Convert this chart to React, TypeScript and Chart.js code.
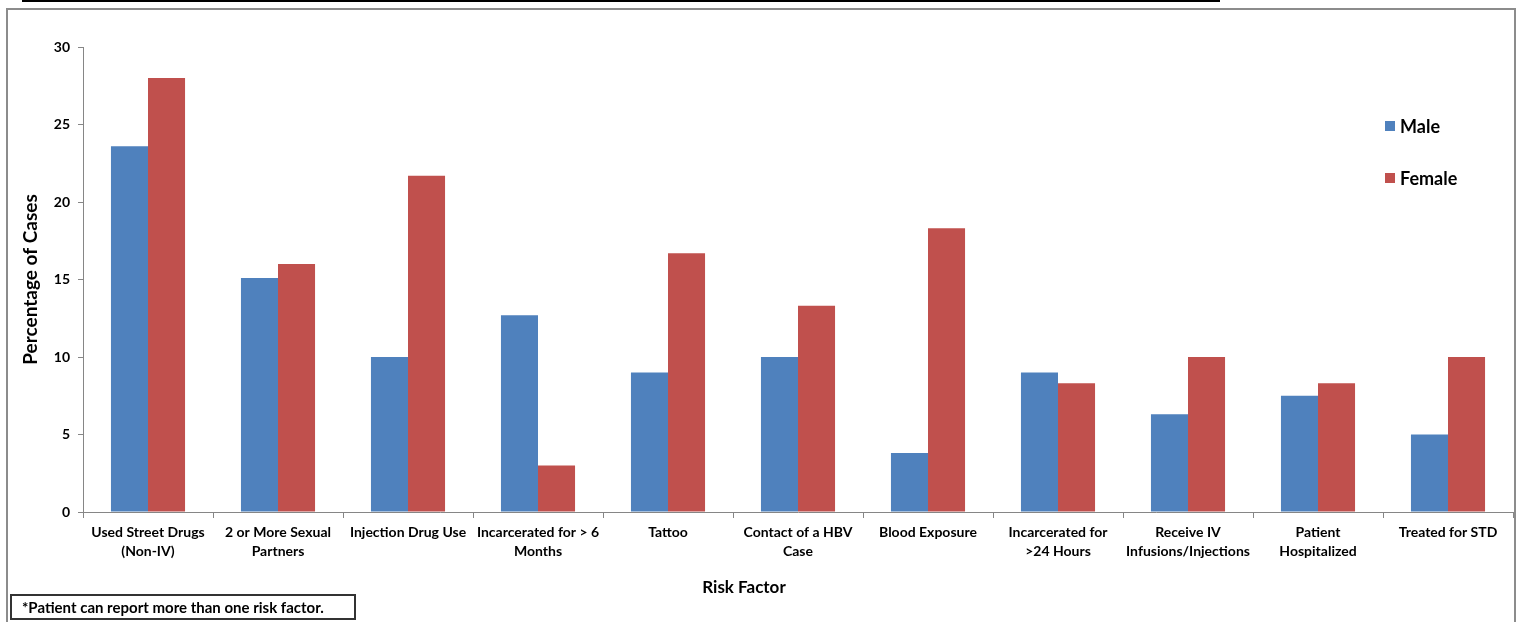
import React, { useEffect, useRef } from "react";
import { Chart, registerables } from "chart.js";

Chart.register(...registerables);

const categories: (string | string[])[] = [
  ["Used Street Drugs", "(Non-IV)"],
  ["2 or More Sexual", "Partners"],
  "Injection Drug Use",
  ["Incarcerated for > 6", "Months"],
  "Tattoo",
  ["Contact of a HBV", "Case"],
  "Blood Exposure",
  ["Incarcerated for", ">24 Hours"],
  ["Receive IV", "Infusions/Injections"],
  ["Patient", "Hospitalized"],
  "Treated for STD",
];

const maleValues = [23.6, 15.1, 10.0, 12.7, 9.0, 10.0, 3.8, 9.0, 6.3, 7.5, 5.0];
const femaleValues = [28.0, 16.0, 21.7, 3.0, 16.7, 13.3, 18.3, 8.3, 10.0, 8.3, 10.0];

const seriesNames = ["Male", "Female"];
const seriesColors = ["#4F81BD", "#C0504D"];

const yTicks = [0, 5, 10, 15, 20, 25, 30];

const xTitle = "Risk Factor";
const yTitle = "Percentage of Cases";
const footnote = "*Patient can report more than one risk factor.";

const FONT = "Lato, 'Open Sans', sans-serif";
const AXIS = "#868686";

export default function App() {
  const ref = useRef<HTMLCanvasElement | null>(null);

  useEffect(() => {
    document.body.style.margin = "0";
    const canvas = ref.current;
    if (!canvas) return;
    const chart = new Chart(canvas, {
      type: "bar",
      data: {
        labels: categories,
        datasets: [
          {
            label: seriesNames[0],
            data: maleValues,
            backgroundColor: seriesColors[0],
            borderWidth: 0,
            categoryPercentage: 0.57,
            barPercentage: 1,
          },
          {
            label: seriesNames[1],
            data: femaleValues,
            backgroundColor: seriesColors[1],
            borderWidth: 0,
            categoryPercentage: 0.57,
            barPercentage: 1,
          },
        ],
      },
      options: {
        responsive: false,
        animation: false,
        layout: { padding: { top: 47, right: 5, bottom: 0, left: 0 } },
        plugins: {
          legend: { display: false },
          tooltip: { enabled: false },
        },
        scales: {
          x: {
            grid: {
              display: true,
              drawOnChartArea: false,
              drawTicks: true,
              tickLength: 6,
              color: AXIS,
              offset: true,
            },
            border: { color: AXIS, width: 1 },
            ticks: {
              color: "#000",
              font: { family: FONT, size: 14, weight: "bold", lineHeight: 1.36 },
              padding: 5,
              maxRotation: 0,
              minRotation: 0,
              autoSkip: false,
            },
            title: { display: false },
            afterFit: (scale: any) => {
              scale.height = 110;
            },
          },
          y: {
            min: 0,
            max: 30,
            afterBuildTicks: (scale: any) => {
              scale.ticks = yTicks.map((v) => ({ value: v }));
            },
            grid: {
              display: true,
              drawOnChartArea: false,
              drawTicks: true,
              tickLength: 5,
              color: AXIS,
            },
            border: { color: AXIS, width: 1 },
            ticks: {
              color: "#000",
              font: { family: FONT, size: 14, weight: "bold" },
              padding: 8,
            },
            title: {
              display: true,
              text: yTitle,
              color: "#000",
              font: { family: FONT, size: 19, weight: "bold" },
              padding: { top: 19, bottom: 0 },
            },
            afterFit: (scale: any) => {
              scale.width = 83;
            },
          },
        },
      },
    });
    return () => chart.destroy();
  }, []);

  return (
    <div style={{ position: "relative", width: 1518, height: 622, overflow: "hidden", background: "#fff", fontFamily: FONT }}>
      <div style={{ position: "absolute", left: 22, top: 0, width: 1198, height: 2, background: "#000" }} />
      <div
        style={{
          position: "absolute",
          left: 6,
          top: 8,
          width: 1506,
          height: 640,
          borderTop: "2px solid #8c8c8c",
          borderLeft: "2px solid #8c8c8c",
          borderRight: "2px solid #8c8c8c",
        }}
      />
      <canvas ref={ref} width={1518} height={622} style={{ position: "absolute", left: 0, top: 0 }} />
      {seriesNames.map((name, i) => (
        <div
          key={name}
          style={{
            position: "absolute",
            left: 1385,
            top: 115 + i * 52,
            height: 22,
            display: "flex",
            alignItems: "center",
            fontSize: 18,
            fontWeight: "bold",
            color: "#000",
          }}
        >
          <span style={{ display: "inline-block", width: 10, height: 10, background: seriesColors[i], marginRight: 5 }} />
          {name}
        </div>
      ))}
      <div
        style={{
          position: "absolute",
          left: 644,
          top: 576,
          width: 200,
          height: 22,
          lineHeight: "22px",
          textAlign: "center",
          fontSize: 17,
          fontWeight: "bold",
          color: "#000",
        }}
      >
        {xTitle}
      </div>
      <div
        style={{
          position: "absolute",
          left: 10,
          top: 594,
          width: 332,
          height: 22,
          border: "2px solid #333",
          fontSize: 15,
          fontWeight: "bold",
          color: "#000",
          lineHeight: "22px",
          paddingLeft: 10,
          boxSizing: "content-box",
          whiteSpace: "nowrap",
        }}
      >
        {footnote}
      </div>
    </div>
  );
}
